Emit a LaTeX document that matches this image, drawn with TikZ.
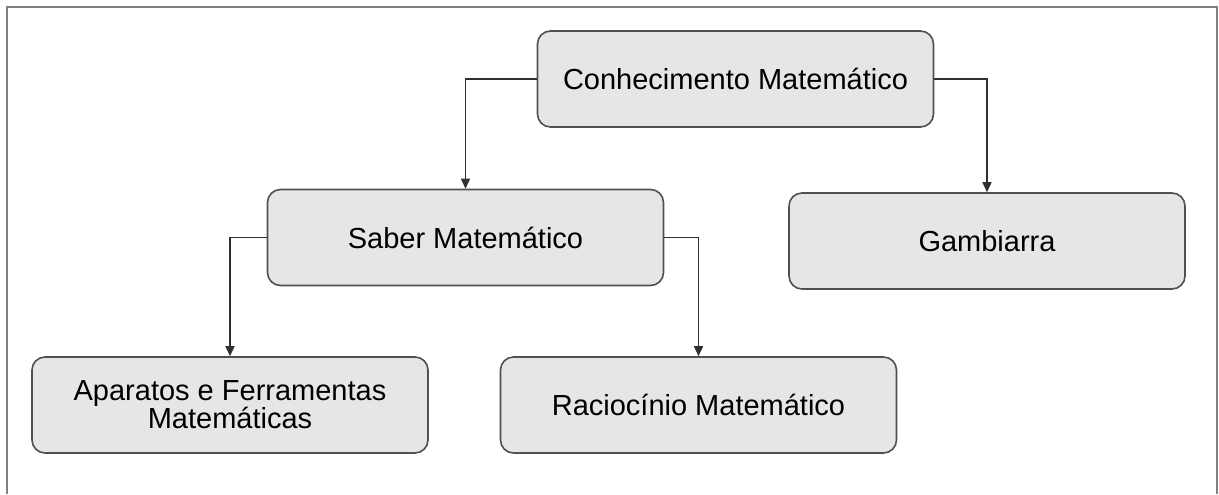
\documentclass[tikz,border=0pt]{standalone}
\usepackage{fontspec}
\setmainfont{Liberation Sans}
\usetikzlibrary{arrows.meta}
\definecolor{boxfill}{HTML}{E6E6E6}
\definecolor{boxline}{HTML}{505050}
\definecolor{frameline}{HTML}{808080}
\definecolor{conline}{HTML}{303030}
\begin{document}
\begin{tikzpicture}[x=0.5pt,y=-0.5pt,
  box/.style={draw=boxline,fill=boxfill,line width=0.8pt,rounded corners=6.5pt,
    minimum width=198pt,minimum height=48pt,inner sep=0pt,align=center,
    font=\fontsize{14.5}{14}\selectfont},
  conn/.style={draw=conline,line width=0.75pt,-{Triangle[width=4.5pt,length=5pt]}}]
\useasboundingbox (0,0) rectangle (1219,494);
\draw[frameline,line width=1pt] (7,494) -- (7,7) -- (1217,7) -- (1217,494);
\node[box] (cm) at (735.5,79) {Conhecimento Matemático};
\node[box] (sm) at (465.5,237.5) {Saber Matemático};
\node[box] (gb) at (987,241) {Gambiarra};
\node[box] (ap) at (230,405) {Aparatos e Ferramentas\\Matemáticas};
\node[box] (rm) at (698.5,405) {Raciocínio Matemático};
\draw[conn] (cm.west) -| (sm.north);
\draw[conn] (cm.east) -| (gb.north);
\draw[conn] (sm.west) -| (ap.north);
\draw[conn] (sm.east) -| (rm.north);
\end{tikzpicture}
\end{document}
